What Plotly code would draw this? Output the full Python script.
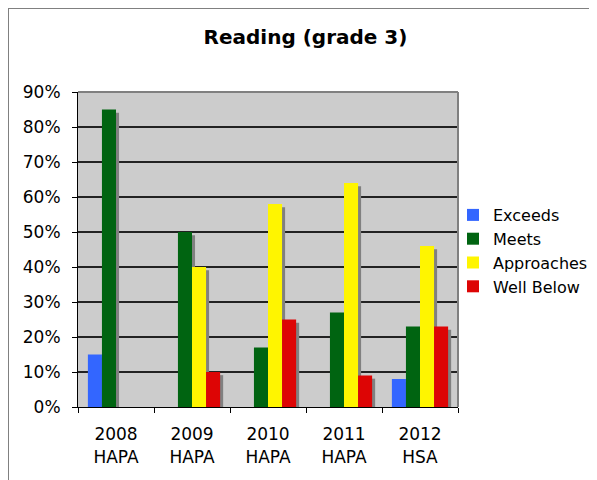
import plotly.graph_objects as go

# values (percent)
years = ["2008<br>HAPA", "2009<br>HAPA", "2010<br>HAPA", "2011<br>HAPA", "2012<br>HSA"]
exceeds = [15, 0, 0, 0, 8]
meets = [85, 50, 17, 27, 23]
approaches = [0, 40, 58, 64, 46]
well_below = [0, 10, 25, 9, 23]

series = [
    ("Exceeds", exceeds, "#3366FF"),
    ("Meets", meets, "#006411"),
    ("Approaches", approaches, "#FFF500"),
    ("Well Below", well_below, "#DD0505"),
]

bar_w = 0.185
start = -2 * bar_w

fig = go.Figure()

# Excel-like drop shadows first, then the coloured bars on top
for i, (name, vals, color) in enumerate(series):
    fig.add_trace(go.Bar(
        x=years, y=[v / 100 - 0.009 if v > 0 else 0 for v in vals],
        width=bar_w, offset=start + i * bar_w + 0.04,
        marker=dict(color="#808080", line=dict(width=0)),
        showlegend=False, hoverinfo="skip",
    ))

for i, (name, vals, color) in enumerate(series):
    fig.add_trace(go.Bar(
        x=years, y=[v / 100 for v in vals], name=name,
        width=bar_w, offset=start + i * bar_w,
        marker=dict(color=color, line=dict(width=0)),
    ))

# page body has an 8px margin, so the figure is sized to fit the window
W, H = 589, 472
L, T, PW, PH = 70, 84, 380, 315

fig.update_layout(
    width=W, height=H,
    barmode="overlay",
    paper_bgcolor="white",
    plot_bgcolor="#CCCCCC",
    font=dict(family="DejaVu Sans", size=17, color="black"),
    margin=dict(l=L, r=W - L - PW, t=T, b=H - T - PH, pad=0, autoexpand=False),
    title=dict(text="<b>Reading (grade 3)</b>", xref="container", x=297.5 / W,
               xanchor="center", yref="container", y=1 - 29 / H, yanchor="middle",
               font=dict(size=20, family="DejaVu Sans")),
    xaxis=dict(
        tickson="boundaries", ticks="outside", ticklen=5, tickcolor="black",
        showline=True, linecolor="black", linewidth=1,
        showgrid=False, tickfont=dict(size=17), ticklabelstandoff=12,
    ),
    yaxis=dict(
        range=[0, 0.9], dtick=0.1, tickformat=".0%",
        ticks="outside", ticklen=5, tickcolor="black",
        showline=True, linecolor="black", linewidth=1,
        showgrid=True, gridcolor="#222222", gridwidth=1.5,
        zeroline=False, tickfont=dict(size=17), ticklabelstandoff=8,
    ),
    legend=dict(x=(445 - L) / PW, y=1 - (243 - T) / PH, xanchor="left", yanchor="middle",
                font=dict(size=16), itemwidth=30, bgcolor="rgba(0,0,0,0)"),
    shapes=[
        # gray frame on top and right of the plot area
        dict(type="line", xref="paper", yref="paper", x0=0, x1=1, y0=1, y1=1,
             line=dict(color="#808080", width=2)),
        dict(type="line", xref="paper", yref="paper", x0=1, x1=1, y0=0, y1=1,
             line=dict(color="#808080", width=2)),
        # outer chart border (right/bottom run off the page)
        dict(type="rect", xref="paper", yref="paper",
             x0=-L / PW, x1=(W - L + 20) / PW, y0=-(H - T - PH + 20) / PH, y1=1 + T / PH,
             line=dict(color="#808080", width=2)),
    ],
)

fig.write_html("out.html")
